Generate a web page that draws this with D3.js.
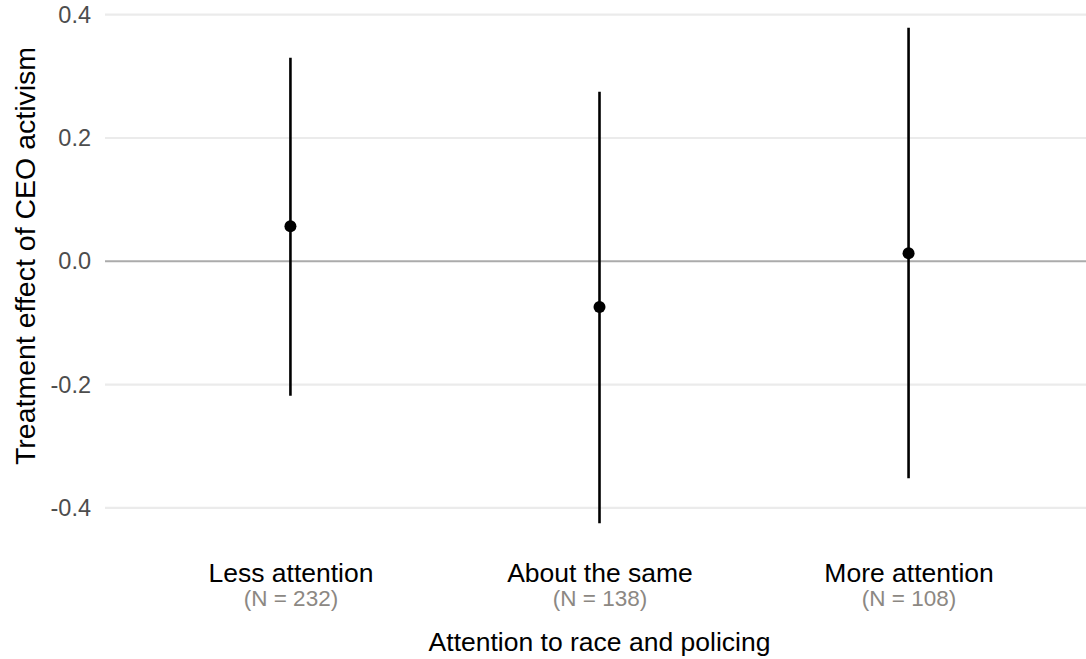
<!DOCTYPE html>
<html>
<head>
<meta charset="utf-8">
<script src="https://cdn.jsdelivr.net/npm/d3@7"></script>
<style>
  body { margin: 0; background: #fff; }
  text { font-family: "Liberation Sans", Arial, sans-serif; }
</style>
</head>
<body>
<script>
// effect estimates with 95% intervals, by attention group
var groups = ["Less attention", "About the same", "More attention"];
var groupN = [232, 138, 108];
var estimates = [0.057, -0.074, 0.013];
var lower = [-0.218, -0.425, -0.352];
var upper = [0.330, 0.275, 0.379];
var yTicks = [-0.4, -0.2, 0.0, 0.2, 0.4];

var totalWidth = 1086, totalHeight = 659;
var margin = { left: 105, right: -8, top: 3, bottom: 111 };

var svg = d3.select('body')
  .append('svg')
  .attr('width', totalWidth)
  .attr('height', totalHeight);

var xScale = d3.scalePoint()
  .domain(groups)
  .range([margin.left, totalWidth - margin.right])
  .padding(0.6);

var yScale = d3.scaleLinear()
  .domain([-0.465, 0.419])
  .range([totalHeight - margin.bottom, margin.top]);

// grid lines
svg.append('g')
  .selectAll('line')
  .data(yTicks)
  .enter()
  .append('line')
  .attr('x1', margin.left)
  .attr('x2', totalWidth)
  .attr('y1', function(d) { return yScale(d); })
  .attr('y2', function(d) { return yScale(d); })
  .attr('stroke', function(d) { return d === 0 ? '#ababab' : '#ebebeb'; })
  .attr('stroke-width', function(d) { return d === 0 ? 2 : 2.2; });

// y tick labels (plain hyphen for negatives, like the original)
var yAxis = d3.axisLeft(yScale)
  .tickValues(yTicks)
  .tickFormat(function(d) { return d.toFixed(1); })
  .tickSize(0)
  .tickPadding(14);
var yAxisNodes = svg.append('g')
  .attr('transform', 'translate(' + margin.left + ',0)')
  .call(yAxis);
yAxisNodes.select('.domain').remove();
yAxisNodes.selectAll('text')
  .attr('font-size', 23.5)
  .attr('fill', '#4d4d4d')
  .attr('font-family', '"Liberation Sans", Arial, sans-serif');

// x category labels
var xAxis = d3.axisBottom(xScale).tickSize(0).tickPadding(0);
var xAxisNodes = svg.append('g')
  .attr('transform', 'translate(0,' + (totalHeight - margin.bottom) + ')')
  .call(xAxis);
xAxisNodes.select('.domain').remove();
xAxisNodes.selectAll('.tick text').remove();
xAxisNodes.selectAll('.tick').each(function(d, i) {
  var t = d3.select(this);
  t.append('text')
    .attr('y', 34)
    .attr('text-anchor', 'middle')
    .attr('font-size', 26.5)
    .attr('fill', '#000')
    .text(d);
  t.append('text')
    .attr('y', 58)
    .attr('text-anchor', 'middle')
    .attr('font-size', 22.5)
    .attr('fill', '#8c8883')
    .text('(N = ' + groupN[i] + ')');
});

// error bars and points
var rows = groups.map(function(g, i) {
  return { group: g, est: estimates[i], lo: lower[i], hi: upper[i] };
});

svg.append('g')
  .selectAll('line')
  .data(rows)
  .enter()
  .append('line')
  .attr('x1', function(d) { return xScale(d.group); })
  .attr('x2', function(d) { return xScale(d.group); })
  .attr('y1', function(d) { return yScale(d.lo); })
  .attr('y2', function(d) { return yScale(d.hi); })
  .attr('stroke', '#000')
  .attr('stroke-width', 2.6);

svg.append('g')
  .selectAll('circle')
  .data(rows)
  .enter()
  .append('circle')
  .attr('cx', function(d) { return xScale(d.group); })
  .attr('cy', function(d) { return yScale(d.est); })
  .attr('r', 6)
  .attr('fill', '#000');

// axis titles
svg.append('text')
  .attr('x', (margin.left + totalWidth - margin.right) / 2)
  .attr('y', 651)
  .attr('text-anchor', 'middle')
  .attr('font-size', 26.5)
  .attr('fill', '#000')
  .text('Attention to race and policing');

svg.append('text')
  .attr('transform', 'translate(35,' + 256 + ') rotate(-90)')
  .attr('text-anchor', 'middle')
  .attr('font-size', 28.5)
  .attr('fill', '#000')
  .text('Treatment effect of CEO activism');
</script>
</body>
</html>
